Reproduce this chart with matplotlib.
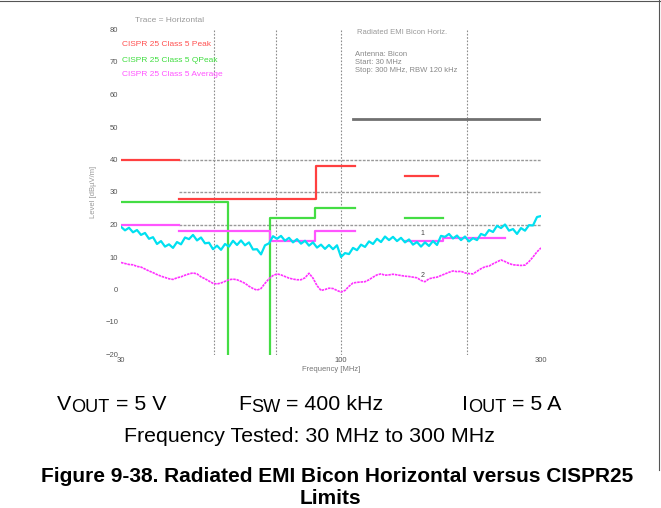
import numpy as np
import matplotlib
matplotlib.use("Agg")
import matplotlib.pyplot as plt

plt.rcParams['font.family'] = ['Liberation Sans', 'DejaVu Sans']

# ---- data -------------------------------------------------------------
F_MIN, F_MAX = 30, 300
N_SWEEP = 106
# peak detector trace (dBuV/m), sweep points log-spaced 30..300 MHz
PEAK_LEVEL = [
    19.3, 18.2, 19.0, 17.6, 18.3, 16.8, 17.4, 15.6, 16.1, 14.0,
    14.9, 13.2, 13.9, 12.8, 14.6, 13.9, 16.0, 15.5, 16.8, 15.1,
    16.0, 14.2, 14.4, 12.4, 13.5, 12.2, 14.0, 13.2, 15.0, 13.7,
    15.1, 13.6, 14.5, 12.3, 12.4, 10.8, 13.6, 14.2, 16.4, 15.6,
    16.5, 15.0, 15.9, 14.5, 15.5, 14.1, 15.0, 13.5, 14.5, 12.9,
    13.8, 12.5, 13.7, 12.4, 13.6, 10.0, 11.2, 10.9, 12.8, 12.1,
    13.8, 13.1, 14.8, 14.0, 15.6, 14.6, 16.3, 15.2, 16.2, 14.9,
    15.9, 14.5, 15.4, 13.8, 14.6, 13.2, 14.5, 13.4, 14.9, 13.7,
    16.5, 16.2, 17.1, 15.7, 16.6, 15.2, 16.3, 14.8, 15.8, 15.2,
    17.1, 16.6, 18.3, 17.7, 19.6, 18.9, 20.0, 18.1, 18.6, 17.1,
    18.9, 18.1, 19.8, 19.7, 22.3, 22.6,
]
# average detector trace (dBuV/m)
AVG_LEVEL = [
    8.3, 8.0, 7.7, 7.6, 7.1, 6.9, 6.3, 5.7, 5.2, 4.6,
    4.1, 3.7, 3.3, 3.1, 3.6, 3.9, 4.4, 4.8, 5.1, 4.8,
    3.9, 3.3, 2.6, 1.9, 1.7, 2.0, 2.5, 3.0, 3.2, 3.0,
    2.5, 1.9, 1.0, 0.3, -0.2, 0.3, 1.9, 3.3, 4.3, 4.8,
    4.5, 4.0, 3.5, 3.2, 3.0, 3.0, 3.6, 5.0, 3.5, 1.2,
    -0.3, 0.0, 0.4, 0.3, -0.3, -0.8, -0.3, 1.0, 2.0, 2.2,
    2.3, 2.4, 3.0, 3.8, 4.5, 4.8, 4.4, 4.5, 4.7, 4.5,
    4.3, 4.1, 4.0, 3.8, 3.6, 2.8, 2.4, 3.3, 3.6, 3.8,
    4.3, 4.8, 5.3, 5.7, 5.5, 5.6, 5.1, 4.9, 4.8, 5.6,
    6.4, 7.0, 7.2, 7.9, 8.5, 9.1, 8.6, 8.0, 7.6, 7.5,
    7.4, 7.5, 8.6, 10.0, 11.6, 12.8,
]

# CISPR25 limits: groups of (f_start, f_stop, level)
RED_LIMIT = [[(30, 41.2, 40)],
             [(41.2, 87.4, 28), (87.4, 108, 38)],
             [(142, 171, 35)]]
GREEN_LIMIT = [[(30, 54, 27), (54, 54, -20)],
               [(68, 68, -20), (68, 87, 22), (87, 108, 25)],
               [(142, 175, 22)]]
MAGENTA_LIMIT = [[(30, 41.2, 20)],
                 [(41.2, 68, 18), (68, 87, 15), (87, 108, 18)],
                 [(142, 175, 15), (175, 246, 16)]]
BLACK_LIMIT = [[(107, 300, 52.5)]]

GRID_F = [50, 70, 100, 200]
GRID_LEVEL = [40, 30, 20]
X_TICKS = [30, 100, 300]
Y_TICKS = list(range(-20, 81, 10))

freq = np.geomspace(F_MIN, F_MAX, N_SWEEP)

# ---- figure -----------------------------------------------------------
W, H = 661, 508
fig = plt.figure(figsize=(W / 100, H / 100), dpi=100)
ax = fig.add_axes([121 / W, 1 - 354.5 / H, 420 / W, 325 / H])
ax.set_xscale('log')
ax.set_xlim(F_MIN, F_MAX)
ax.set_ylim(-20, 80)
for s in ax.spines.values():
    s.set_visible(False)

ax.set_xticks(X_TICKS)
ax.set_xticklabels([str(t) for t in X_TICKS])
ax.xaxis.set_minor_locator(matplotlib.ticker.NullLocator())
ax.set_yticks(Y_TICKS)
ax.tick_params(length=0, labelsize=5.5, colors='#555555', pad=2)
ax.set_xlabel('Frequency [MHz]', fontsize=5.5, color='#777777', labelpad=1)
ax.set_ylabel('Level [dBµV/m]', fontsize=5.5, color='#999999', labelpad=6)

# grid
for f in GRID_F:
    ax.axvline(f, color='#8c8c8c', lw=0.8, ls=(0, (1.5, 1.5)), zorder=1)
ax.hlines(GRID_LEVEL, 41.2, F_MAX, color='#999999', lw=1.0,
          linestyles=(0, (2, 1)), zorder=1)


def draw_limit(groups, color, lw=1.6):
    for g in groups:
        xs, ys = [], []
        for f0, f1, v in g:
            xs += [f0, f1]
            ys += [v, v]
        ax.plot(xs, ys, color=color, lw=lw, zorder=3)


draw_limit(BLACK_LIMIT, '#707070', lw=2.0)
draw_limit(RED_LIMIT, '#ff4040')
draw_limit(GREEN_LIMIT, '#44dd44')
draw_limit(MAGENTA_LIMIT, '#ff55ff')

ax.plot(freq, PEAK_LEVEL, color='#00e0f0', lw=1.6, zorder=4)
ax.plot(freq, AVG_LEVEL, color='#ff30ff', lw=1.2, ls=(0, (1.5, 0.5)),
        zorder=4)

# markers
ax.text(157, 16.8, '1', fontsize=5, color='#444444', ha='center')
ax.text(157, 3.8, '2', fontsize=5, color='#444444', ha='center')

# in-plot annotation text
fig.text(135 / W, 1 - 20 / H, 'Trace = Horizontal', fontsize=6,
         color='#999999', va='center')
fig.text(122 / W, 1 - 44 / H, 'CISPR 25 Class 5 Peak', fontsize=6,
         color='#ff5050', va='center')
fig.text(122 / W, 1 - 60 / H, 'CISPR 25 Class 5 QPeak', fontsize=6,
         color='#40dd40', va='center')
fig.text(122 / W, 1 - 75 / H, 'CISPR 25 Class 5 Average', fontsize=6,
         color='#ff55ff', va='center')
fig.text(357 / W, 1 - 33 / H, 'Radiated EMI Bicon Horiz.', fontsize=5.5,
         color='#999999', va='center')
fig.text(355 / W, 1 - 62 / H,
         'Antenna: Bicon\nStart: 30 MHz\nStop: 300 MHz, RBW 120 kHz',
         fontsize=5.5, color='#888888', va='center', linespacing=1.2)

# captions below chart
renderer = fig.canvas.get_renderer()


def sub_text(x_px, y_px, parts, size=15.4):
    # parts: list of (text, is_subscript)
    x = x_px
    for txt, sub in parts:
        fs = size * 0.85 if sub else size
        yy = y_px + (4 if sub else 0)
        t = fig.text(x / W, 1 - yy / H, txt, fontsize=fs, va='center')
        x += t.get_window_extent(renderer).width


sub_text(57, 404, [('V', False), ('OUT', True), (' = 5 V', False)])
sub_text(238, 404, [('F', False), ('SW', True), (' = 400 kHz', False)])
sub_text(462, 404, [('I', False), ('OUT', True), (' = 5 A', False)])
fig.text(309 / W, 1 - 437 / H, 'Frequency Tested: 30 MHz to 300 MHz',
         fontsize=15.4, ha='center', va='center')
fig.text(337 / W, 1 - 477 / H,
         'Figure 9-38. Radiated EMI Bicon Horizontal versus CISPR25',
         fontsize=15, fontweight='bold', ha='center', va='center')
fig.text(330 / W, 1 - 498 / H, 'Limits', fontsize=15, fontweight='bold',
         ha='center', va='center')

# frame lines of the page
fig.add_artist(plt.Line2D([0, 1], [1 - 1 / H, 1 - 1 / H], color='#555555',
                          lw=0.8))
fig.add_artist(plt.Line2D([1 - 2 / W, 1 - 2 / W], [1, 1 - 470 / H],
                          color='#555555', lw=0.8))

fig.savefig('out.png', dpi=100)
